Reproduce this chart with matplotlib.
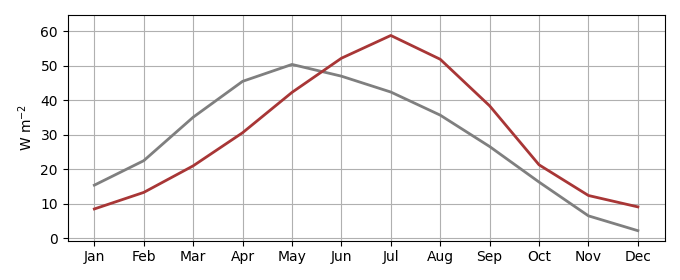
import matplotlib
matplotlib.use("Agg")
import matplotlib.pyplot as plt

months = ["Jan", "Feb", "Mar", "Apr", "May", "Jun",
          "Jul", "Aug", "Sep", "Oct", "Nov", "Dec"]
gray_vals = [15.4, 22.5, 35.1, 45.5, 50.4, 47.0, 42.4, 35.7, 26.6, 16.3, 6.5, 2.2]
red_vals = [8.5, 13.3, 21.0, 30.6, 42.3, 52.2, 58.8, 51.9, 38.4, 21.3, 12.4, 9.1]


def main():
    fig, ax = plt.subplots(figsize=(6.8, 2.8), dpi=100)
    fig.subplots_adjust(left=0.0995, right=0.978, top=0.946, bottom=0.141)
    x = range(len(months))
    ax.plot(x, gray_vals, color="#7f7f7f", lw=2)
    ax.plot(x, red_vals, color="#a83636", lw=2)
    ax.set_xticks(list(x))
    ax.set_xticklabels(months)
    ax.set_xlim(-0.54, 11.55)
    ax.set_ylim(-0.65, 64.7)
    ax.set_yticks([0, 10, 20, 30, 40, 50, 60])
    ax.set_ylabel(r"W m$^{-2}$")
    ax.grid(True, color="#b0b0b0")
    ax.set_axisbelow(True)
    fig.savefig("out.png", dpi=100)


if __name__ == "__main__":
    main()
